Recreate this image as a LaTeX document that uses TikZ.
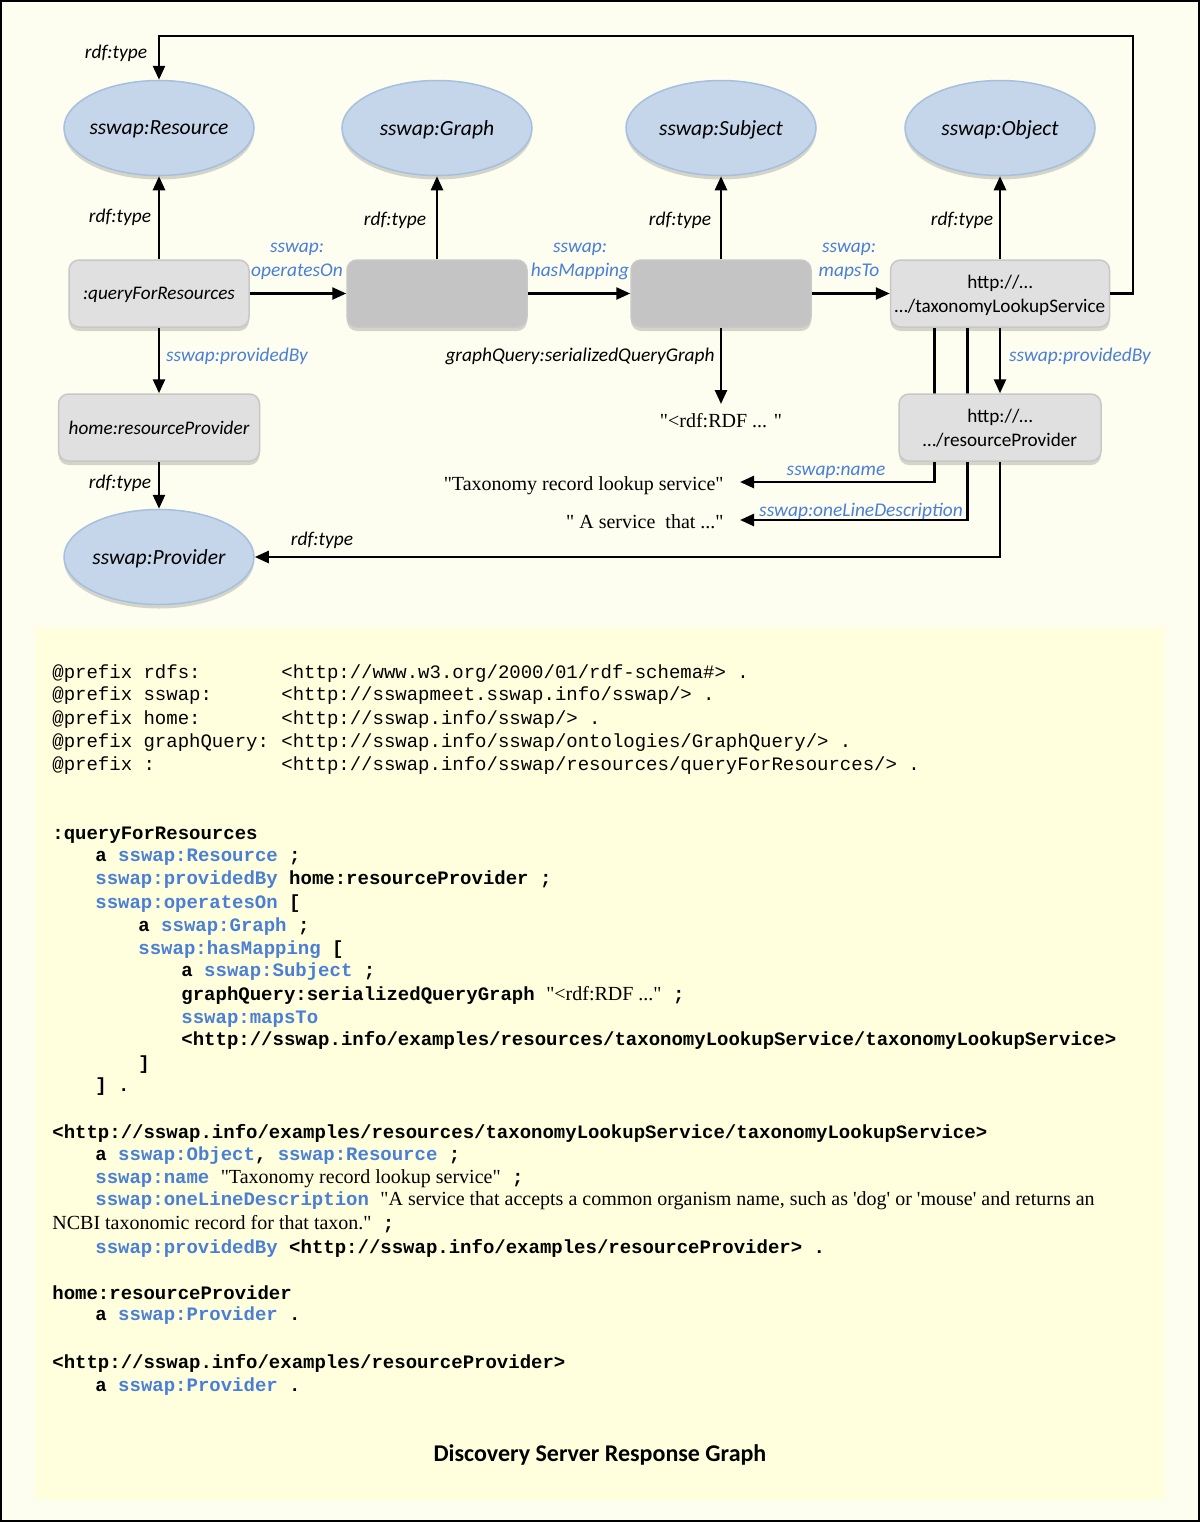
\documentclass[tikz,border=0pt]{standalone}
\usepackage{fontspec}
\usetikzlibrary{arrows.meta,shapes.geometric,shadows,calc}
\newfontfamily\carl{Carlito}
\newfontfamily\mono{Liberation Mono}
\newfontfamily\serif{Liberation Serif}
\definecolor{outerbg}{RGB}{253,253,240}
\definecolor{panelbg}{RGB}{255,255,221}
\definecolor{ellfill}{RGB}{197,214,234}
\definecolor{elldraw}{RGB}{165,192,222}
\definecolor{litebox}{RGB}{224,224,224}
\definecolor{darkbox}{RGB}{196,196,196}
\definecolor{boxdraw}{RGB}{200,200,200}
\definecolor{sblue}{RGB}{74,127,216}
\newcommand\sbl[1]{\textcolor{sblue}{#1}}
\newcommand\srf[1]{{\serif\mdseries\fontsize{10}{12}\selectfont #1}}
\begin{document}
\begin{tikzpicture}[x=0.5pt,y=-0.5pt,
  cls/.style={ellipse, fill=ellfill, draw=elldraw, line width=0.75pt,
    minimum width=95pt, minimum height=47.5pt,
    inner xsep=-3pt, inner ysep=2pt, text depth=0pt,
    font=\carl\itshape\fontsize{10.8}{13}\selectfont,
    drop shadow={shadow xshift=0pt, shadow yshift=-2pt, fill=black, opacity=0.16}},
  inst/.style={rectangle, rounded corners=5pt, fill=litebox, draw=boxdraw, line width=0.75pt,
    minimum width=90pt, minimum height=33.5pt, text depth=0pt,
    font=\carl\itshape\fontsize{9.6}{12}\selectfont,
    drop shadow={shadow xshift=0pt, shadow yshift=-2pt, fill=black, opacity=0.16}},
  uinst/.style={inst, align=center, inner xsep=2pt, text depth=0pt, font=\carl\fontsize{9.6}{12}\selectfont},
  blank/.style={inst, fill=darkbox},
  lbl/.style={font=\carl\itshape\fontsize{9.7}{12}\selectfont, inner sep=0pt, align=center},
  plbl/.style={lbl, text=sblue},
  lit/.style={font=\serif\fontsize{10}{12}\selectfont, inner ysep=2pt, inner xsep=8pt,
    text height=8.8pt, text depth=0.2pt},
  rel/.style={draw, line width=1.25pt, -{Triangle[width=6pt,length=7pt]}},
  code/.style={anchor=base west, inner sep=0pt, font=\mono\bfseries\fontsize{9.5}{11}\selectfont},
  pre/.style={anchor=base west, inner sep=0pt, font=\mono\fontsize{9.5}{11}\selectfont}
]
\useasboundingbox (0,0) rectangle (1200,1522);
\fill[outerbg] (0,0) rectangle (1200,1522);
\draw[line width=1pt] (1,1) rectangle (1199,1521);
\fill[panelbg] (35,627) rectangle (1165,1500);

% class ellipses
\node[cls] (res) at (159,128) {sswap:Resource};
\node[cls] (graph) at (437,128) {sswap:Graph};
\node[cls] (subj) at (721,128) {sswap:Subject};
\node[cls] (obj) at (1000,128) {sswap:Object};
\node[cls] (prov) at (159,557) {sswap:Provider};

% instance boxes
\node[inst] (qfr) at (159,293.5) {:queryForResources};
\node[blank] (gb) at (437,293.5) {};
\node[blank] (sb) at (721,293.5) {};
\node[uinst, minimum width=109.5pt] (tax) at (1000,293.5) {http://…\\…/taxonomyLookupService};
\node[inst, minimum width=100.5pt] (hrp) at (159,427.5) {home:resourceProvider};

% literals
\node[lit, anchor=north, inner ysep=2.6pt] (lit0) at (721,404) {"<rdf:RDF ... "};
\node[lit, anchor=east] (lit1) at (740,482) {"Taxonomy record lookup service"};
\node[lit, anchor=east] (lit2) at (740,520) {" A service\ \ that ..."};

% lines that pass behind the provider box
\draw[rel] ($(tax.south west)+(44.5,0)$) |- (lit1.east);
\draw[rel] ($(tax.south west)+(77.5,0)$) |- (lit2.east);

\node[uinst, minimum width=101pt] (rp) at (1000,427.5) {http://…\\…/resourceProvider};

% connectors
\draw[rel] (qfr.north) -- (res.south);
\draw[rel] (gb.north) -- (graph.south);
\draw[rel] (sb.north) -- (subj.south);
\draw[rel] (tax.north) -- (obj.south);
\coordinate (tr) at (1133,36);
\draw[rel] (tax.east) -| (tr) -| (res.north);
\draw[rel] (qfr.east) -- (gb.west);
\draw[rel] (gb.east) -- (sb.west);
\draw[rel] (sb.east) -- (tax.west);
\draw[rel] (qfr.south) -- (hrp.north);
\draw[rel] (hrp.south) -- (prov.north);
\draw[rel] (sb.south) -- (lit0.north);
\draw[rel] (tax.south) -- (rp.north);
\draw[rel] (rp.south) |- (prov.east);

% edge labels
\node[lbl] (l1) at (116,53) {rdf:type};
\node[lbl] (l2) at (120,217) {rdf:type};
\node[lbl] (l3) at (395,220) {rdf:type};
\node[lbl] (l4) at (680,220) {rdf:type};
\node[lbl] (l5) at (962,220) {rdf:type};
\node[lbl] (l6) at (120,483) {rdf:type};
\node[lbl] (l7) at (322,540) {rdf:type};
\node[plbl] (l8) at (297,261) {sswap:\\operatesOn};
\node[plbl] (l9) at (580,261) {sswap:\\hasMapping};
\node[plbl] (l10) at (849,261) {sswap:\\mapsTo};
\node[plbl] (l11) at (237,356) {sswap:providedBy};
\node[plbl] (l12) at (1080,356) {sswap:providedBy};
\node[lbl, anchor=east] (l13) at (715,356) {graphQuery:serializedQueryGraph};
\node[plbl] (l14) at (836,472) {sswap:name};
\node[plbl] (l15) at (861,511) {sswap:oneLineDescription};

% prefixes
\node[pre] (p1a) at (52,678) {@prefix rdfs:};
\node[pre] (p1b) at (281,678) {<http://www.w3.org/2000/01/rdf-schema\#> .};
\node[pre] (p2a) at (52,700) {@prefix sswap:};
\node[pre] (p2b) at (281,700) {<http://sswapmeet.sswap.info/sswap/> .};
\node[pre] (p3a) at (52,724) {@prefix home:};
\node[pre] (p3b) at (281,724) {<http://sswap.info/sswap/> .};
\node[pre] (p4a) at (52,747) {@prefix graphQuery:};
\node[pre] (p4b) at (281,747) {<http://sswap.info/sswap/ontologies/GraphQuery/> .};
\node[pre] (p5a) at (52,770) {@prefix :};
\node[pre] (p5b) at (281,770) {<http://sswap.info/sswap/resources/queryForResources/> .};

% code
\node[code] (c1) at (52,839) {:queryForResources};
\node[code] (c2) at (95,861) {a \sbl{sswap:Resource} ;};
\node[code] (c3) at (95,884) {\sbl{sswap:providedBy} home:resourceProvider ;};
\node[code] (c4) at (95,908) {\sbl{sswap:operatesOn} [};
\node[code] (c5) at (138,931) {a \sbl{sswap:Graph} ;};
\node[code] (c6) at (138,954) {\sbl{sswap:hasMapping} [};
\node[code] (c7) at (181,976) {a \sbl{sswap:Subject} ;};
\node[code] (c8) at (181,1000) {graphQuery:serializedQueryGraph \srf{"<rdf:RDF ..."}\ ;};
\node[code] (c9) at (181,1023) {\sbl{sswap:mapsTo}};
\node[code] (c10) at (181,1045) {<http://sswap.info/examples/resources/taxonomyLookupService/taxonomyLookupService>};
\node[code] (c11) at (138,1069) {]};
\node[code] (c12) at (95,1091) {] .};
\node[code] (c13) at (52,1138) {<http://sswap.info/examples/resources/taxonomyLookupService/taxonomyLookupService>};
\node[code] (c14) at (95,1160) {a \sbl{sswap:Object}, \sbl{sswap:Resource} ;};
\node[code] (c15) at (95,1183) {\sbl{sswap:name} \srf{"Taxonomy record lookup service"}\ ;};
\node[code] (c16) at (95,1205) {\sbl{sswap:oneLineDescription} \srf{"A service that accepts a common organism name, such as 'dog' or 'mouse' and returns an}};
\node[code] (c17) at (52,1229) {\srf{NCBI taxonomic record for that taxon."}\ ;};
\node[code] (c18) at (95,1253) {\sbl{sswap:providedBy} <http://sswap.info/examples/resourceProvider> .};
\node[code] (c19) at (52,1299) {home:resourceProvider};
\node[code] (c20) at (95,1320) {a \sbl{sswap:Provider} .};
\node[code] (c21) at (52,1368) {<http://sswap.info/examples/resourceProvider>};
\node[code] (c22) at (95,1391) {a \sbl{sswap:Provider} .};

\node[font=\carl\bfseries\fontsize{12}{14}\selectfont] (title) at (600,1455) {Discovery Server Response Graph};
\end{tikzpicture}
\end{document}
